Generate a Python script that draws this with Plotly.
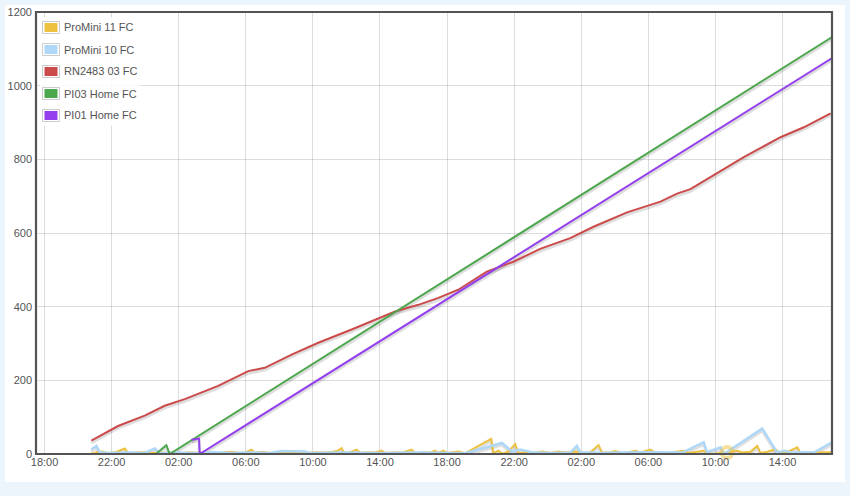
import pandas as pd
import plotly.graph_objects as go

# ---------------- data (hours after the first 18:00 tick) ----------------
BASE = pd.Timestamp("2016-10-10 18:00")

yellow_h = [2.79, 2.88, 3.10, 3.46, 3.76, 4.24, 4.78, 4.97, 5.37, 5.97, 6.27, 6.87, 7.34, 7.76,
            8.24, 8.66, 9.25, 9.73, 10.15, 10.75, 11.16, 11.64, 12.0, 12.34, 12.54, 12.96,
            13.43, 14.03, 14.63, 15.22, 15.58, 16.12, 16.72, 17.19, 17.49, 17.71, 17.85,
            18.21, 18.61, 18.81, 19.28, 19.70, 20.10, 20.30, 20.90, 21.37, 21.89, 22.09,
            22.57, 22.99, 23.28, 23.46, 23.78, 24.0, 24.30, 24.67, 25.07, 26.63, 26.76,
            27.06, 27.28, 27.64, 28.06, 28.26, 28.66, 29.19, 29.67, 30.15, 30.63, 31.10,
            31.64, 32.12, 32.54, 33.03, 33.24, 33.73, 34.03, 34.45, 34.81, 35.22, 35.52,
            36.12, 36.42, 36.84, 37.31, 37.73, 38.11, 38.39, 38.81, 39.30, 39.52, 39.88,
            40.30, 40.70, 40.96, 41.29, 41.61, 42.09, 42.49, 42.69, 43.10, 43.58, 43.88,
            44.30, 44.88, 45.07, 45.55, 45.97, 46.39, 46.97]
yellow_v = [4, 0, 5, 7, 2, 5, 15, 3, 4, 5, 2, 4, 3, 5,
            2, 5, 3, 4, 2, 4, 6, 3, 5, 12, 3, 6,
            3, 5, 4, 6, 3, 5, 4, 6, 9, 16, 4,
            5, 12, 3, 5, 4, 9, 3, 5, 4, 12, 3,
            5, 4, 9, 3, 9, 3, 5, 7, 2, 41, 2,
            9, 1, 6, 27, 2, 5, 4, 7, 3, 7, 4,
            7, 3, 5, 24, 4, 5, 8, 3, 5, 9, 4,
            12, 3, 5, 4, 6, 9, 3, 6, 9, 2, 0,
            3, 4, 6, 9, 4, 6, 22, 3, 6, 13, 1,
            6, 18, 3, 5, 4, 5, 5]

blue_h = [2.79, 3.09, 3.28, 3.88, 5.07, 5.97, 6.57, 6.87, 7.76, 8.96, 10.15, 11.04, 12.24,
          13.43, 14.13, 15.52, 15.82, 17.61, 20.0, 22.39, 25.07, 27.27, 27.87, 28.36, 29.06,
          30.15, 31.34, 31.74, 31.94, 33.13, 34.33, 36.12, 38.03, 39.30, 39.50, 40.30, 40.50,
          42.79, 43.67, 44.18, 44.48, 45.07, 45.87, 46.97]
blue_v = [13, 22, 5, 3, 4, 3, 15, 2, 4, 3, 5, 3, 4,
          3, 8, 7, 3, 4, 3, 4, 2, 30, 7, 12, 5,
          3, 4, 22, 5, 3, 4, 5, 4, 32, 5, 18, 0,
          69, 5, 9, 3, 5, 4, 32]

red_h = [2.79, 4.38, 5.97, 7.16, 8.36, 10.35, 12.14, 13.13, 14.73, 16.32, 18.31, 19.70, 20.90,
         22.29, 23.48, 24.67, 26.37, 27.96, 29.55, 31.34, 32.73, 34.73, 36.72, 37.71, 38.51,
         39.90, 41.69, 43.88, 45.27, 46.87]
red_v = [36, 76, 104, 131, 149, 185, 225, 234, 270, 302, 338, 365, 387,
         405, 424, 446, 495, 522, 557, 586, 617, 656, 685, 707, 719,
         757, 806, 860, 887, 925]

green_h = [6.69, 7.26, 7.46, 46.99]
green_v = [2, 24, 0, 1133]

purple_h = [8.76, 9.21, 9.25, 46.99]
purple_v = [39, 42, 0, 1076]

highlight_index = 93  # hovered point of ProMini 11 FC

names = ["ProMini 11 FC", "ProMini 10 FC", "RN2483 03 FC", "PI03 Home FC", "PI01 Home FC"]
colors = ["#edc240", "#afd8f8", "#cb4b4b", "#4da74d", "#9440ed"]
series = [(yellow_h, yellow_v), (blue_h, blue_v), (red_h, red_v), (green_h, green_v), (purple_h, purple_v)]

x_range_h = [-0.51, 46.95]
y_ticks = [0, 200, 400, 600, 800, 1000, 1200]


def to_time(hours):
    return [BASE + pd.Timedelta(hours=h) for h in hours]


# ---------------- layout geometry ----------------
W, H = 850, 496
L, R, T, B = 36, 18, 12, 42
PW, PH = W - L - R, H - T - B
Y_MAX = 1200
SHADOW_PX = 2.2
shadow_shift = SHADOW_PX * Y_MAX / PH

TXT = "#545454"
BG = "#edf5fc"
FONT = "Liberation Sans, Arial, sans-serif"


def px(x):
    return (x - L) / PW


def py(y):
    return (H - B - y) / PH


fig = go.Figure()

# shadows on main y axis (shifted range), lines on overlaid y2
for (hs, vs), c in zip(series, colors):
    fig.add_trace(go.Scatter(x=to_time(hs), y=vs, mode="lines", yaxis="y",
                             line=dict(color="rgba(0,0,0,0.13)", width=3),
                             hoverinfo="skip", showlegend=False))
for (hs, vs), c, n in zip(series, colors, names):
    fig.add_trace(go.Scatter(x=to_time(hs), y=vs, mode="lines", yaxis="y2", name=n,
                             line=dict(color=c, width=2.5 if c == "#afd8f8" else 2),
                             showlegend=False))

# hover highlight ring
fig.add_trace(go.Scatter(x=to_time([yellow_h[highlight_index]]), y=[yellow_v[highlight_index]],
                         mode="markers", yaxis="y2", showlegend=False, hoverinfo="skip",
                         cliponaxis=False,
                         marker=dict(symbol="circle-open", size=11, color="rgba(237,194,64,0.5)",
                                     line=dict(color="rgba(237,194,64,0.5)", width=4))))

shapes = []
# white card
shapes.append(dict(type="rect", xref="paper", yref="paper", x0=px(5), x1=px(845), y0=py(482), y1=py(5),
                   fillcolor="white", line=dict(width=0), layer="below"))
# frame
shapes.append(dict(type="rect", xref="paper", yref="paper", x0=0, x1=1, y0=0, y1=1,
                   line=dict(color=TXT, width=2.2), layer="above"))
# legend background
shapes.append(dict(type="rect", xref="paper", yref="paper", x0=px(40), x1=px(140), y0=py(126), y1=py(17),
                   fillcolor="rgba(255,255,255,0.85)", line=dict(width=0), layer="above"))
annotations = []
for i, (n, c) in enumerate(zip(names, colors)):
    cy = 27.5 + 22 * i
    shapes.append(dict(type="rect", xref="paper", yref="paper", x0=px(42.5), x1=px(59.5),
                       y0=py(cy + 6), y1=py(cy - 6), fillcolor="white",
                       line=dict(color="#cccccc", width=1), layer="above"))
    shapes.append(dict(type="rect", xref="paper", yref="paper", x0=px(44.5), x1=px(57.5),
                       y0=py(cy + 4.5), y1=py(cy - 4.5), fillcolor=c, line=dict(width=0), layer="above"))
    annotations.append(dict(xref="paper", yref="paper", x=px(62), y=py(cy), text=n, showarrow=False,
                            xanchor="left", yanchor="middle", font=dict(family=FONT, size=11, color=TXT)))

fig.update_layout(
    width=W, height=H, margin=dict(l=L, r=R, t=T, b=B, autoexpand=False),
    paper_bgcolor=BG, plot_bgcolor="white",
    showlegend=False, shapes=shapes, annotations=annotations,
    font=dict(family=FONT, size=11, color=TXT),
    xaxis=dict(type="date", range=to_time(x_range_h), tick0=BASE, dtick=4 * 3600 * 1000,
               tickformat="%H:%M", showgrid=True, gridcolor="rgba(84,84,84,0.2)", gridwidth=1,
               zeroline=False, showline=False, ticks="", automargin=False,
               tickfont=dict(size=11, color=TXT)),
    yaxis=dict(range=[shadow_shift, Y_MAX + shadow_shift], showticklabels=False, showgrid=False,
               zeroline=False, showline=False, ticks="", automargin=False),
    yaxis2=dict(overlaying="y", side="left", range=[0, Y_MAX], tickvals=y_ticks,
                showgrid=True, gridcolor="rgba(84,84,84,0.2)", gridwidth=1, automargin=False,
                zeroline=False, showline=False, ticks="", ticklabelstandoff=3,
                tickfont=dict(size=11, color=TXT)),
)

fig.write_html("out.html", config={"displayModeBar": False},
               post_script="document.body.style.margin='0';document.body.style.background='%s';" % BG)
